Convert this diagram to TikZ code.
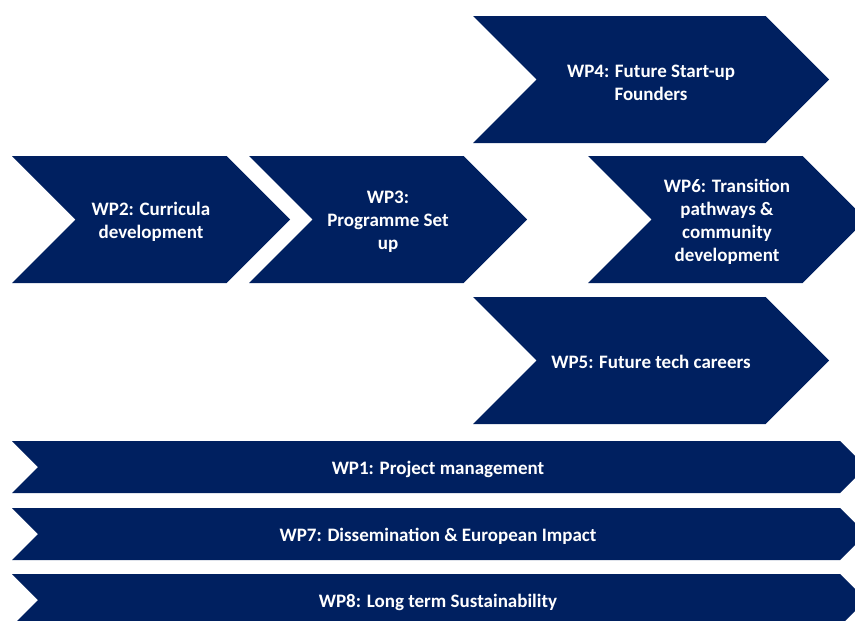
\documentclass[tikz,border=0pt]{standalone}
\usepackage{fontspec}
\setmainfont{Carlito}
\definecolor{wpblue}{HTML}{002060}
\begin{document}
\begin{tikzpicture}[x=1pt,y=-1pt,
  wpfill/.style={fill=wpblue},
  wplabel/.style={text=white,font=\fontsize{19}{23}\selectfont\bfseries,align=center,inner sep=0pt,yshift=-2pt}]
  % page frame
  \clip (0,0) rectangle (855,621);
  \fill[white] (0,0) rectangle (855,621);
  % chevron: #1,#2 = left/right x, #3,#4 = top/bottom y, #5 = point depth
  \newcommand{\wpchevron}[5]{%
    \fill[wpfill] (#1,#3) -- ({#2-#5},#3) -- (#2,{(#3+#4)/2}) -- ({#2-#5},#4)
      -- (#1,#4) -- ({#1+#5},{(#3+#4)/2}) -- cycle;}
  % work-package chevrons
  \wpchevron{473}{829}{16}{143}{63.5}
  \wpchevron{12}{290}{156}{283}{63.5}
  \wpchevron{249}{527}{156}{283}{63.5}
  \wpchevron{588}{866}{156}{283}{63.5}
  \wpchevron{473}{829}{297}{424}{63.5}
  % cross-cutting bars
  \wpchevron{12}{866}{441}{493}{26}
  \wpchevron{12}{866}{508}{560}{26}
  \wpchevron{12}{866}{574}{626}{26}
  % labels
  \node[wplabel] (wp4) at (651,81) {WP4: Future Start-up\\Founders};
  \node[wplabel] (wp2) at (151,220) {WP2: Curricula\\development};
  \node[wplabel] (wp3) at (388,220) {WP3:\\Programme Set\\up};
  \node[wplabel] (wp6) at (727,220) {WP6: Transition\\pathways \&\\community\\development};
  \node[wplabel] (wp5) at (651,360) {WP5: Future tech careers};
  \node[wplabel] (wp1) at (438,467) {WP1: Project management};
  \node[wplabel] (wp7) at (438,534) {WP7: Dissemination \& European Impact};
  \node[wplabel] (wp8) at (438,600) {WP8: Long term Sustainability};
\end{tikzpicture}
\end{document}
